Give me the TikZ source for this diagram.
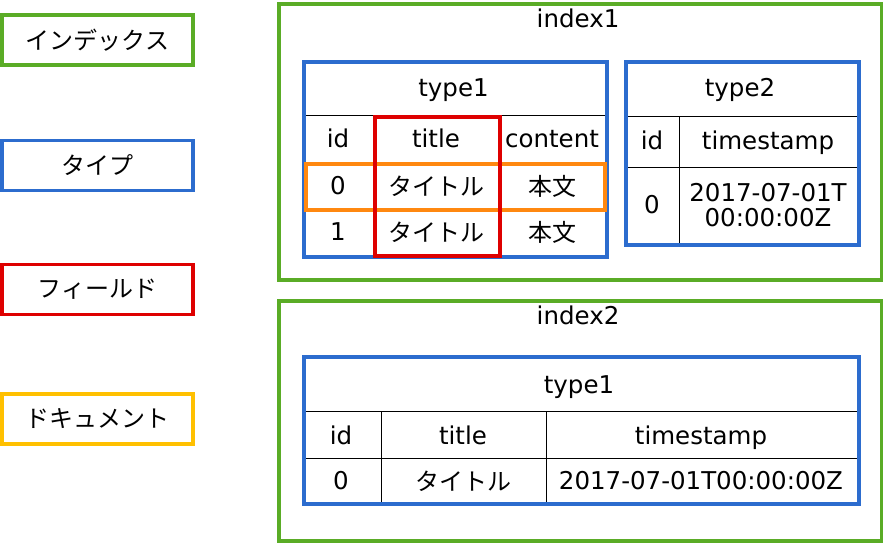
\documentclass[tikz,border=0pt]{standalone}
\usepackage{fontspec}
\setmainfont{DejaVu Sans}
\newfontfamily\jp{Noto Sans CJK JP}
\definecolor{cgreen}{RGB}{90,172,38}
\definecolor{cblue}{RGB}{44,108,206}
\definecolor{cred}{RGB}{222,0,0}
\definecolor{corange}{RGB}{255,136,16}
\definecolor{cyellow}{RGB}{255,192,0}
\tikzset{
  lat/.style={font=\fontsize{24.5}{28}\selectfont, inner sep=0pt, anchor=base, yshift=-8.5pt},
  jpt/.style={font=\jp\fontsize{24}{26}\selectfont, inner sep=0pt, anchor=base, yshift=-9pt},
  legbox/.style={draw, line width=3.5pt, minimum width=191pt, minimum height=50pt, inner sep=0pt, font=\jp\fontsize{24}{26}\selectfont},
  frame/.style={draw, line width=3.5pt, inner sep=0pt, anchor=north west},
  grid/.style={line width=1pt, black},
}
\begin{document}
\begin{tikzpicture}[x=1pt,y=-1pt]
\useasboundingbox (0,0) rectangle (883,542);
% legend
\node[legbox, draw=cgreen] (lgIndex) at (97.5,40) {インデックス};
\node[legbox, draw=cblue] (lgType) at (97.5,165.5) {タイプ};
\node[legbox, draw=cred] (lgField) at (97.5,289.5) {フィールド};
\node[legbox, draw=cyellow] (lgDoc) at (97.5,419) {ドキュメント};

% index1
\node[frame, draw=cgreen, minimum width=603pt, minimum height=276pt] (index1) at (277,2) {};
\node[lat] (index1lbl) at (578,19) {index1};

% type1 in index1
\draw[grid] (302,115) -- (605,115);
\draw[grid] (302,162) -- (605,162);
\draw[grid] (302,208) -- (605,208);
\draw[grid] (373,115) -- (373,255);
\draw[grid] (498,115) -- (498,255);
\node[frame, draw=cblue, minimum width=303pt, minimum height=195pt] (t1) at (302,60) {};
\node[lat] (t1h) at (453.5,88) {type1};
\node[lat] (t1c1) at (338,139) {id};
\node[lat] (t1c2) at (436,139) {title};
\node[lat] (t1c3) at (552,139) {content};
\node[lat] (t1r0a) at (338,186) {0};
\node[jpt] (t1r0b) at (436,186) {タイトル};
\node[jpt] (t1r0c) at (552,186) {本文};
\node[lat] (t1r1a) at (338,232) {1};
\node[jpt] (t1r1b) at (436,232) {タイトル};
\node[jpt] (t1r1c) at (552,232) {本文};
\node[frame, draw=corange, minimum width=299pt, minimum height=46pt] (doc) at (304,162) {};
\node[frame, draw=cred, minimum width=125pt, minimum height=139pt] (field) at (373,115) {};

% type2 in index1
\draw[grid] (624,116) -- (857,116);
\draw[grid] (624,167) -- (857,167);
\draw[grid] (679,116) -- (679,243);
\node[frame, draw=cblue, minimum width=233pt, minimum height=183pt] (t2) at (624,60) {};
\node[lat] (t2h) at (740,88) {type2};
\node[lat] (t2c1) at (652,141) {id};
\node[lat] (t2c2) at (768,141) {timestamp};
\node[lat] (t2r0a) at (652,205) {0};
\node[inner sep=0pt, anchor=base, align=center, font=\fontsize{24.5}{25}\selectfont] (t2r0b) at (768,226) {2017-07-01T\\00:00:00Z};

% index2
\node[frame, draw=cgreen, minimum width=603pt, minimum height=240pt] (index2) at (277,299) {};
\node[lat] (index2lbl) at (578,316) {index2};

\draw[grid] (302,411) -- (857,411);
\draw[grid] (302,458) -- (857,458);
\draw[grid] (381,411) -- (381,502);
\draw[grid] (546,411) -- (546,502);
\node[frame, draw=cblue, minimum width=555pt, minimum height=147pt] (t3) at (302,355) {};
\node[lat] (t3h) at (579,385) {type1};
\node[lat] (t3c1) at (341,436) {id};
\node[lat] (t3c2) at (463,436) {title};
\node[lat] (t3c3) at (701,436) {timestamp};
\node[lat] (t3r0a) at (341,481) {0};
\node[jpt] (t3r0b) at (463,481) {タイトル};
\node[lat] (t3r0c) at (701,481) {2017-07-01T00:00:00Z};
\end{tikzpicture}
\end{document}
